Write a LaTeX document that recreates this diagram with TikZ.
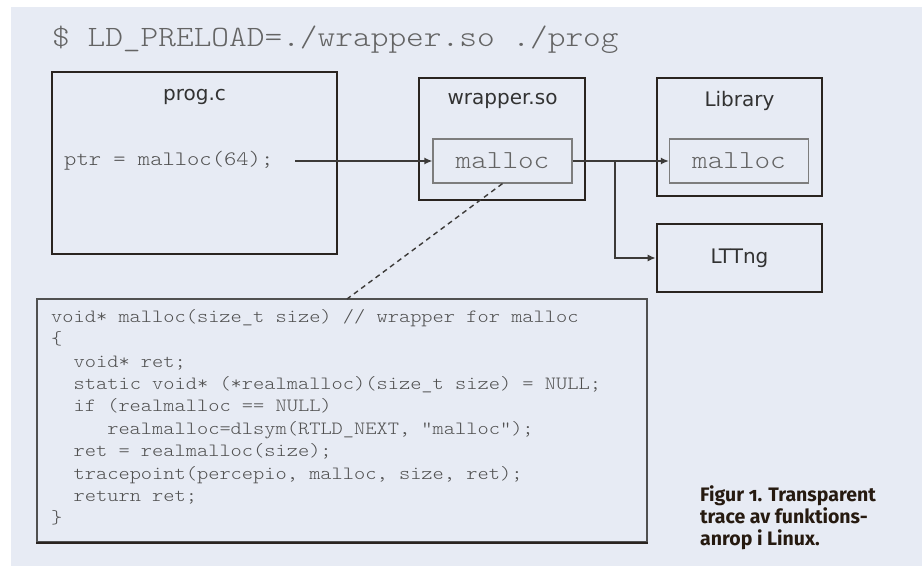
\documentclass[tikz,border=0pt]{standalone}
\usepackage{fontspec}
\setsansfont{DejaVu Sans}
\setmonofont{lmmonolt10-regular.otf}[FakeStretch=1.143]
\newfontfamily\capfont{Fira Sans}[Numbers=OldStyle]
\usetikzlibrary{arrows.meta}

\definecolor{panel}{RGB}{231,235,244}
\definecolor{boxline}{RGB}{42,36,32}
\definecolor{connline}{RGB}{60,58,56}
\definecolor{innerline}{RGB}{125,125,125}
\definecolor{codegray}{RGB}{80,80,80}
\definecolor{lightgray}{RGB}{100,100,100}
\definecolor{labelgray}{RGB}{50,50,50}
\definecolor{captext}{RGB}{38,26,16}

\tikzset{
    bigbox/.style={draw=boxline, line width=2.6pt, inner sep=0pt},
    funbox/.style={draw=innerline, line width=1.2pt, minimum width=139, minimum height=44,
        inner sep=0pt, text=lightgray, font=\fontsize{26}{28}\selectfont\ttfamily},
    boxname/.style={text=labelgray, font=\fontsize{20}{24}\selectfont\sffamily},
    conn/.style={draw=connline, line width=1.5pt, -{Latex[length=8pt,width=7pt]}}
}

\begin{document}
\begin{tikzpicture}[x=1pt,y=-1pt]
    \useasboundingbox (0,0) rectangle (922,567);
    \fill[panel] (11,7) rectangle (922,566);

    \node[anchor=base west, inner sep=0pt, text=lightgray, font=\fontsize{29.5}{30}\selectfont\ttfamily] (cmd) at (52,47) {\$ LD\_PRELOAD=./wrapper.so ./prog};

    % program and the two libraries
    \node[bigbox, minimum width=285, minimum height=182] (prog) at (194.5,163) {};
    \node[boxname] (progname) at (194.5,97) {prog.c};
    \node[anchor=west, inner sep=0pt, text=codegray, font=\fontsize{20.5}{22}\selectfont\ttfamily] (call) at (64,161) {ptr = malloc(64);};

    \node[bigbox, minimum width=166, minimum height=122] (wrapper) at (502,139) {};
    \node[boxname] (wrappername) at (502.5,101) {wrapper.so};
    \node[funbox] (wmalloc) at (502.5,161) {malloc};

    \node[bigbox, minimum width=165, minimum height=118] (lib) at (739.5,137) {};
    \node[boxname] (libname) at (739.5,101) {Library};
    \node[funbox] (lmalloc) at (739,161) {malloc};

    \node[bigbox, boxname, minimum width=165, minimum height=68] (lttng) at (739.5,258) {LTTng};

    % wrapper source
    \node[draw=codegray, line width=1.4pt, minimum width=610, minimum height=243] (code) at (342,420.5) {};
    \draw[boxline, line width=2pt] (code.south west) -- (code.south east);
    \node[anchor=north west, inner sep=0pt, align=left, text=codegray, font=\fontsize{18.7}{22.4}\selectfont\ttfamily] (codetext) at (51,309) {void* malloc(size\_t size) // wrapper for malloc\\
\{\\
\phantom{xx}void* ret;\\
\phantom{xx}static void* (*realmalloc)(size\_t size) = NULL;\\
\phantom{xx}if (realmalloc == NULL)\\
\phantom{xxxxx}realmalloc=dlsym(RTLD\_NEXT, "malloc");\\
\phantom{xx}ret = realmalloc(size);\\
\phantom{xx}tracepoint(percepio, malloc, size, ret);\\
\phantom{xx}return ret;\\
\}};

    \coordinate (callend) at (295,161);
    \coordinate (fork) at (615,161);
    \coordinate (codetop) at (347,299);

    \draw[conn] (callend) -- (wmalloc.west);
    \draw[conn] (wmalloc.east) -- (lmalloc.west);
    \draw[conn] (fork) |- (lttng.west);
    \draw[connline, line width=1.4pt, dash pattern=on 5pt off 4pt] (wmalloc.south) -- (codetop);

    \node[anchor=north west, inner sep=0pt, align=left, text=captext, font=\fontsize{19.5}{22}\selectfont\capfont\bfseries] (caption) at (700,485) {Figur 1. Transparent\\trace av funktions-\\anrop i Linux.};
\end{tikzpicture}
\end{document}
